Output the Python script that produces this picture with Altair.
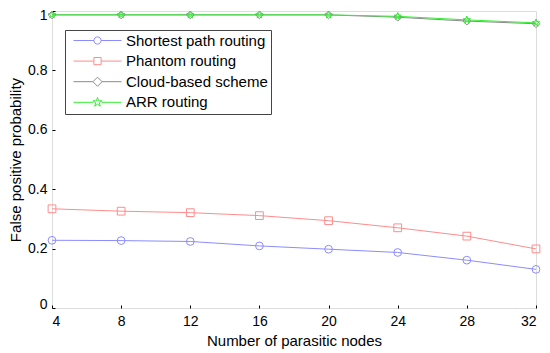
import altair as alt
import pandas as pd

nodes = [4, 8, 12, 16, 20, 24, 28, 32]
series_names = ["Shortest path routing", "Phantom routing", "Cloud-based scheme", "ARR routing"]
shortest = [0.228, 0.227, 0.224, 0.209, 0.198, 0.187, 0.161, 0.130]
phantom = [0.334, 0.326, 0.321, 0.311, 0.294, 0.270, 0.242, 0.199]
cloud = [0.987, 0.987, 0.987, 0.987, 0.987, 0.979, 0.966, 0.957]
arr = [0.987, 0.987, 0.987, 0.987, 0.987, 0.982, 0.970, 0.960]
y_ticks = [0, 0.2, 0.4, 0.6, 0.8, 1]
colors = ["#8c8cff", "#ff8c8c", "#8c8c8c", "#33ee33"]

star = ("M0,-1L0.223,-0.307L0.951,-0.309L0.361,0.117L0.588,0.809L0,0.38L-0.588,0.809"
        "L-0.361,0.117L-0.951,-0.309L-0.223,-0.307Z")
shapes = ["circle", "square", "diamond", star]

rows = []
for name, vals in zip(series_names, [shortest, phantom, cloud, arr]):
    for n, v in zip(nodes, vals):
        rows.append({"nodes": n, "prob": v, "series": name})
df = pd.DataFrame(rows)

r = 0.15
q = 0.19
leg_paths = [
    f"M-1,0L-{r},0M{r},0L1,0M{r},0A{r},{r} 0 1,1 -{r},0A{r},{r} 0 1,1 {r},0Z",
    f"M-1,0L-{r},0M{r},0L1,0M-{r},-{r}L{r},-{r}L{r},{r}L-{r},{r}Z",
    f"M-1,0L-{q},0M{q},0L1,0M0,-{q}L{q},0L0,{q}L-{q},0Z",
    "M-1,0L-0.18,0M0.18,0L1,0M0,-0.2L0.045,-0.061L0.19,-0.062L0.072,0.023L0.118,0.162L0,0.076"
    "L-0.118,0.162L-0.072,0.023L-0.19,-0.062L-0.045,-0.061Z",
]

legend = alt.Legend(
    title=None, orient="none", legendX=13, legendY=19,
    symbolSize=2304, clipHeight=15, rowPadding=4.6, padding=3, symbolOffset=5,
    labelFont="Liberation Sans", labelFontSize=15, labelColor="black", labelOffset=4,
    strokeColor="#444444", fillColor="white", labelLimit=300,
    symbolOpacity=1, symbolStrokeWidth=1, symbolFillColor="white",
)

color = alt.Color("series:N", scale=alt.Scale(domain=series_names, range=colors), legend=legend)

font = "Liberation Sans"
xaxis = alt.Axis(values=nodes, title="Number of parasitic nodes", grid=False, domain=False,
                 offset=-3, tickSize=3, tickColor="black", labelPadding=6,
                 labelFont=font, labelFontSize=14, labelColor="black",
                 titleFont=font, titleFontSize=15, titleFontWeight="normal",
                 titleColor="black", titlePadding=5)
yaxis = alt.Axis(values=y_ticks, format="~g", title="False positive probability",
                 grid=False, domain=False, offset=-3, tickSize=3, tickColor="black", labelPadding=5,
                 labelFlush=True, labelFlushOffset=3,
                 labelFont=font, labelFontSize=14, labelColor="black",
                 titleFont=font, titleFontSize=15, titleFontWeight="normal",
                 titleColor="black", titlePadding=4)

x = alt.X("nodes:Q", scale=alt.Scale(domain=[4, 32], nice=False), axis=xaxis)
y = alt.Y("prob:Q", scale=alt.Scale(domain=[0, 1], nice=False), axis=yaxis)

base = alt.Chart(df)
lines = base.mark_line(strokeWidth=1).encode(x=x, y=y, color=color, detail="series:N")

point_layers = []
for name, shp, col in zip(series_names, shapes, colors):
    point_layers.append(
        base.transform_filter(alt.datum.series == name)
        .mark_point(filled=False, size=60, strokeWidth=1, opacity=1, shape=shp, color=col)
        .encode(x=x, y=y)
    )

legend_layer = base.transform_filter("datum.nodes < 0").mark_point(filled=False, opacity=1).encode(
    x=x, y=y, color=color,
    shape=alt.Shape("series:N", scale=alt.Scale(domain=series_names, range=leg_paths), legend=legend),
)

chart = alt.layer(lines, *point_layers, legend_layer).properties(
    width=484, height=297,
    autosize=alt.AutoSizeParams(type="none"),
    padding={"left": 44, "top": 3, "right": 5, "bottom": 43},
).configure_view(stroke="#b4b4b4", strokeWidth=2).configure(background="white")

chart.save("out.html", embed_options={"renderer": "svg", "actions": False})
